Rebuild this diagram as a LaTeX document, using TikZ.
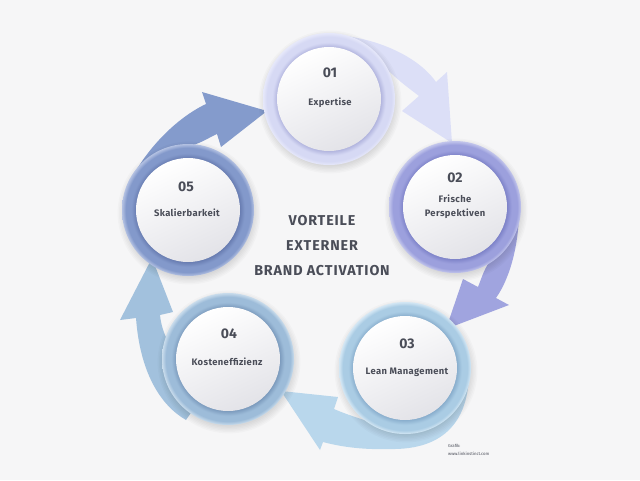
\documentclass[tikz,border=0pt]{standalone}
\usepackage{fontspec}
\setmainfont{Fira Sans}
\newfontfamily\lblfont[LetterSpace=4]{Fira Sans}
\newfontfamily\ttlfont[LetterSpace=6]{Fira Sans}
\definecolor{bg}{HTML}{F6F6F7}
\definecolor{txt}{HTML}{4A4D58}
\definecolor{wbot}{HTML}{E3E3E8}
% ring / arrow colours
\definecolor{rA}{HTML}{D6D9F4}\definecolor{rAd}{HTML}{AEB1DC}\definecolor{rAl}{HTML}{E6E8FA}\definecolor{aA}{HTML}{DCDFF7}
\definecolor{rB}{HTML}{9CA0DD}\definecolor{rBd}{HTML}{7A7FC6}\definecolor{rBl}{HTML}{C3C6EC}\definecolor{aB}{HTML}{A0A4DF}
\definecolor{rC}{HTML}{AACCE4}\definecolor{rCd}{HTML}{85AACA}\definecolor{rCl}{HTML}{D4E7F4}\definecolor{aC}{HTML}{B9D7EC}
\definecolor{rD}{HTML}{9DBCD9}\definecolor{rDd}{HTML}{7897BA}\definecolor{rDl}{HTML}{C9DCEC}\definecolor{aD}{HTML}{A2C1DD}
\definecolor{rE}{HTML}{8399CB}\definecolor{rEd}{HTML}{6579AE}\definecolor{rEl}{HTML}{B3C1E2}\definecolor{aE}{HTML}{849BCC}
\pgfdeclareradialshading{ringone}{\pgfpoint{0bp}{0bp}}{color(0bp)=(rAd);color(19.4bp)=(rAd);color(21.5bp)=(rA);color(23.6bp)=(rA);color(25bp)=(rAl);color(50bp)=(rAl)}
\pgfdeclareradialshading{ringtwo}{\pgfpoint{0bp}{0bp}}{color(0bp)=(rBd);color(19.4bp)=(rBd);color(21.5bp)=(rB);color(23.6bp)=(rB);color(25bp)=(rBl);color(50bp)=(rBl)}
\pgfdeclareradialshading{ringthree}{\pgfpoint{0bp}{0bp}}{color(0bp)=(rCd);color(19.4bp)=(rCd);color(21.5bp)=(rC);color(23.6bp)=(rC);color(25bp)=(rCl);color(50bp)=(rCl)}
\pgfdeclareradialshading{ringfour}{\pgfpoint{0bp}{0bp}}{color(0bp)=(rDd);color(19.4bp)=(rDd);color(21.5bp)=(rD);color(23.6bp)=(rD);color(25bp)=(rDl);color(50bp)=(rDl)}
\pgfdeclareradialshading{ringfive}{\pgfpoint{0bp}{0bp}}{color(0bp)=(rEd);color(19.4bp)=(rEd);color(21.5bp)=(rE);color(23.6bp)=(rE);color(25bp)=(rEl);color(50bp)=(rEl)}
\begin{document}
\begin{tikzpicture}[x=1pt,y=-1pt,
  ringnode/.style={circle,inner sep=0pt,minimum size=132pt,shade,shading=#1},
  whitenode/.style={circle,inner sep=0pt,minimum size=104pt,top color=white,bottom color=wbot,shading angle=25},
  numtext/.style={anchor=base,text=txt,font=\fontsize{14}{14}\selectfont\bfseries,inner sep=0pt},
  lbltext/.style={anchor=base,text=txt,font=\lblfont\fontsize{9.4}{10}\selectfont\bfseries,inner sep=0pt},
  titletext/.style={anchor=base,text=txt,font=\ttlfont\fontsize{14.3}{15}\selectfont\bfseries,inner sep=0pt},
  foottext/.style={anchor=base west,text=txt,font=\fontsize{4.3}{5}\selectfont,inner sep=0pt}]
\fill[bg] (0,0) rectangle (640,480);
\useasboundingbox (0,0) rectangle (640,480);

% arrows (behind circles)
\fill[aA] (330,35) .. controls (365,35) and (415,52) .. (436,82) -- (447,72) -- (452,143) -- (402,111) -- (419,96) .. controls (406,86) and (392,76) .. (381,62) -- (329,99) -- cycle;
\fill[aB] (519,210) .. controls (519,240) and (512,275) .. (496,298) -- (509,305) -- (446,329) -- (463,279) -- (478,287) .. controls (482,277) and (485,266) .. (492,259) -- (455,207) -- cycle;
\fill[aC] (469,368) .. controls (470,420) and (445,450) .. (390,449) .. controls (360,450) and (338,446) .. (323,442) -- (320,450) -- (281,391) -- (338,397) -- (334,409) .. controls (350,416) and (366,420) .. (380,426) -- (405,368) -- cycle;
\fill[aD] (186,420) .. controls (160,405) and (140,372) .. (136,318) -- (120,320) -- (152,258) -- (173,312) -- (160,315) .. controls (161,325) and (164,334) .. (168,341) -- (228,359) -- cycle;
\fill[aE] (126,193) .. controls (134,165) and (168,122) .. (206,104) -- (202,92) -- (267,111) -- (221,147) -- (217,134) .. controls (208,138) and (198,145) .. (188,146) -- (188,210) -- cycle;

% soft shadows
\foreach \cx/\cy in {329/99,455/207,405/368,228/359,188/210}{
  \foreach \k in {1,...,6}{\fill[black,opacity=0.018] (\cx+1,\cy+3) circle ({63+1.4*\k});}
}

% circles
\node[ringnode=ringone]   (c1) at (329,99)  {};
\node[ringnode=ringtwo]   (c2) at (455,207) {};
\node[ringnode=ringthree] (c3) at (405,368) {};
\node[ringnode=ringfour]  (c4) at (228,359) {};
\node[ringnode=ringfive]  (c5) at (188,210) {};
\node[whitenode] (w1) at (c1) {};
\node[whitenode] (w2) at (c2) {};
\node[whitenode] (w3) at (c3) {};
\node[whitenode] (w4) at (c4) {};
\node[whitenode] (w5) at (c5) {};

% texts
\node[numtext] (n1) at (330,77) {01};
\node[lbltext] (l1) at (330,105) {Expertise};
\node[numtext] (n2) at (455,182) {02};
\node[lbltext] (l2a) at (455,202) {Frische};
\node[lbltext] (l2b) at (455,216) {Perspektiven};
\node[numtext] (n3) at (407,348) {03};
\node[lbltext] (l3) at (407,374) {Lean Management};
\node[numtext] (n4) at (229,338) {04};
\node[lbltext] (l4) at (227,365) {Kosteneffizienz};
\node[numtext] (n5) at (186,191) {05};
\node[lbltext] (l5) at (187,216) {Skalierbarkeit};

\node[titletext] (t1) at (322,225) {VORTEILE};
\node[titletext] (t2) at (322,250) {EXTERNER};
\node[titletext] (t3) at (322,275) {BRAND ACTIVATION};

\node[foottext] (f1) at (448,447) {Grafik:};
\node[foottext] (f2) at (448,455) {www.linkinstinct.com};
\end{tikzpicture}
\end{document}
